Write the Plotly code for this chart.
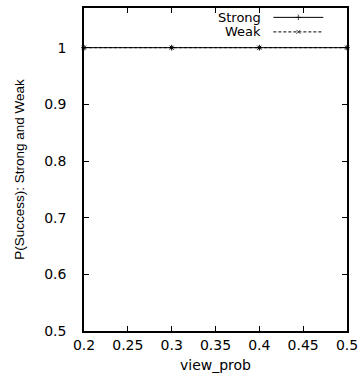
import plotly.graph_objects as go

view_prob = [0.2, 0.3, 0.4, 0.5]
strong = [1.0, 1.0, 1.0, 1.0]
weak = [1.0, 1.0, 1.0, 1.0]
series_names = ["Strong", "Weak"]
x_ticks = [0.2, 0.25, 0.3, 0.35, 0.4, 0.45, 0.5]
y_ticks = [0.5, 0.6, 0.7, 0.8, 0.9, 1.0]

font = "DejaVu Sans, Liberation Sans, Arial, sans-serif"
fig = go.Figure()
fig.add_trace(go.Scatter(x=view_prob, y=strong, mode="lines+markers", name=series_names[0],
                         line=dict(color="black", width=1),
                         marker=dict(symbol="cross-thin", size=4, line=dict(color="black", width=1)),
                         showlegend=False, cliponaxis=False))
fig.add_trace(go.Scatter(x=view_prob, y=weak, mode="lines+markers", name=series_names[1],
                         line=dict(color="black", width=1, dash="3px,2px"),
                         marker=dict(symbol="x-thin", size=4, line=dict(color="black", width=1)),
                         showlegend=False, hoverinfo="skip" if False else "all", cliponaxis=False))

# legend (gnuplot style: text then sample)
leg_y = [0.971, 0.926]
for i, nm in enumerate(series_names):
    fig.add_annotation(x=0.682, y=leg_y[i], xref="paper", yref="paper", text=nm, showarrow=False,
                       xanchor="right", yanchor="middle", font=dict(family=font, size=13, color="black"))
fig.add_trace(go.Scatter(x=[0.72, 0.815, 0.91], y=[leg_y[0]] * 3, xaxis="x2", yaxis="y2",
                         mode="lines+markers", line=dict(color="black", width=1),
                         marker=dict(symbol="cross-thin", size=[0, 4, 0], line=dict(color="black", width=1)),
                         showlegend=False, hoverinfo="skip"))
fig.add_trace(go.Scatter(x=[0.72, 0.815, 0.91], y=[leg_y[1]] * 3, xaxis="x2", yaxis="y2",
                         mode="lines+markers", line=dict(color="black", width=1, dash="3px,2px"),
                         marker=dict(symbol="x-thin", size=[0, 4, 0], line=dict(color="black", width=1)),
                         showlegend=False, hoverinfo="skip"))

axis_common = dict(showgrid=False, zeroline=False, ticks="inside", ticklen=5, tickcolor="black",
                   showline=True, linecolor="black", linewidth=1.5, mirror="ticks",
                   tickfont=dict(family=font, size=14, color="black"))
fig.update_layout(
    width=364, height=379,
    margin=dict(l=84, r=14, t=6, b=48),
    plot_bgcolor="white", paper_bgcolor="white",
    xaxis=dict(range=[0.2, 0.5], tickvals=x_ticks, ticktext=[f"{v:g}" for v in x_ticks],
               ticklabelstandoff=0,
               title=dict(text="view_prob", font=dict(family=font, size=14, color="black"), standoff=9),
               **axis_common),
    yaxis=dict(range=[0.5, 1.07], tickvals=y_ticks, ticktext=[f"{v:g}" for v in y_ticks],
               ticklabelstandoff=13,
               title=dict(text="P(Success): Strong and Weak", font=dict(family="Liberation Sans, Arial, sans-serif", size=13.5, color="black"), standoff=16),
               **axis_common),
    xaxis2=dict(overlaying="x", range=[0, 1], visible=False),
    yaxis2=dict(overlaying="y", range=[0, 1], visible=False),
)
fig.write_html("out.html")
